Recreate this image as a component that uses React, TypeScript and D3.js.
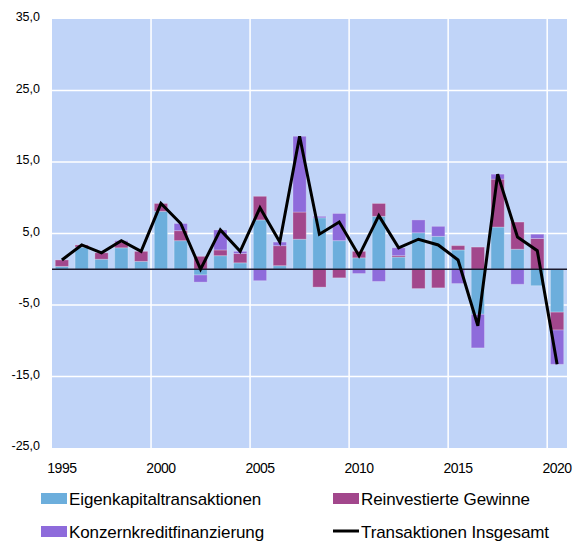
import React from "react";
import * as d3 from "d3";

// Direktinvestitionen: Transaktionen nach Komponenten, 1995-2020
const years = d3.range(1995, 2021).map(String);
const eigenkapital = [0.4, 3.1, 1.4, 3.0, 1.1, 8.1, 4.0, -0.8, 1.9, 0.9, 6.9, 0.5, 4.2, 7.2, 4.0, 1.6, 7.4, 1.7, 5.1, 4.6, 2.7, -6.3, 5.9, 2.8, -2.3, -6.0];
const reinvestiert = [0.9, 0.3, 0.9, 0.8, 1.4, 1.1, 1.4, 1.8, 0.8, 1.3, 3.3, 2.8, 3.8, -2.5, -1.2, 0.9, 1.8, 0.2, -2.7, -2.6, 0.6, 3.1, 6.7, 3.8, 4.3, -2.5];
const konzernkredit = [0.0, 0.0, 0.0, 0.2, 0.0, 0.0, 1.0, -1.0, 2.8, 0.3, -1.6, 0.5, 10.6, 0.2, 3.8, -0.6, -1.7, 1.1, 1.8, 1.4, -2.0, -4.7, 0.7, -2.1, 0.6, -4.8];
const insgesamt = [1.3, 3.4, 2.3, 4.0, 2.5, 9.2, 6.4, 0.0, 5.5, 2.5, 8.6, 3.8, 18.6, 4.9, 6.6, 1.9, 7.5, 3.0, 4.2, 3.4, 1.3, -7.9, 13.3, 4.5, 2.6, -13.3];
const yTicks = [-25, -15, -5, 5, 15, 25, 35];
const xLabels = ["1995", "2000", "2005", "2010", "2015", "2020"];

const seriesNames = ["Eigenkapitaltransaktionen", "Reinvestierte Gewinne", "Konzernkreditfinanzierung"];
const colors = ["#6caedc", "#a2478c", "#8e6bdb"];

export default function App() {
  const width = 573;
  const height = 541;
  const plot = { left: 52, right: 567, top: 19, bottom: 448 };

  const x = d3.scaleBand().domain(years).range([plot.left, plot.right]).paddingInner(0).paddingOuter(0);
  const y = d3.scaleLinear().domain([-25, 35]).range([plot.bottom, plot.top]);
  const barW = x.bandwidth() * 0.67;

  const rows = years.map((yr, i) => ({
    year: yr,
    [seriesNames[0]]: eigenkapital[i],
    [seriesNames[1]]: reinvestiert[i],
    [seriesNames[2]]: konzernkredit[i],
  }));
  const stacked = d3.stack<any>().keys(seriesNames).offset(d3.stackOffsetDiverging)(rows);

  const line = d3
    .line<number>()
    .x((_, i) => (x(years[i]) as number) + x.bandwidth() / 2)
    .y((d) => y(d));

  const font = "'Liberation Sans', Arial, sans-serif";

  return (
    <svg width={width} height={height} style={{ position: "absolute", left: 0, top: 0 }} fontFamily={font}>
      <rect x={plot.left} y={plot.top} width={plot.right - plot.left} height={plot.bottom - plot.top} fill="#c0d4f8" />
      {yTicks.slice(1, -1).map((t) => (
        <line key={"gy" + t} x1={plot.left} x2={plot.right} y1={y(t)} y2={y(t)} stroke="#ffffff" strokeWidth={1.5} />
      ))}
      {xLabels.slice(1).map((l) => (
        <line key={"gx" + l} x1={x(l)} x2={x(l)} y1={plot.top} y2={plot.bottom} stroke="#ffffff" strokeWidth={1.5} />
      ))}
      {stacked.map((s, si) => (
        <g key={s.key} fill={colors[si]}>
          {s.map((d, i) => {
            const y0 = y(d[0]);
            const y1 = y(d[1]);
            if (Math.abs(y0 - y1) < 0.01) return null;
            return (
              <rect
                key={i}
                x={(x(years[i]) as number) + (x.bandwidth() - barW) / 2}
                y={Math.min(y0, y1)}
                width={barW}
                height={Math.abs(y0 - y1)}
                stroke="#ffffff"
                strokeOpacity={0.25}
                strokeWidth={1}
              />
            );
          })}
        </g>
      ))}
      <line x1={plot.left} x2={plot.right} y1={y(0)} y2={y(0)} stroke="#1a1a2e" strokeWidth={1.3} />
      <path d={line(insgesamt) || ""} fill="none" stroke="#000000" strokeWidth={3} strokeLinejoin="miter" />
      {yTicks.map((t) => (
        <text key={"ty" + t} x={40} y={y(t) + 2} textAnchor="end" fontSize={12.5} fill="#000">
          {d3.format(".1f")(t).replace(".", ",").replace("−", "-")}
        </text>
      ))}
      {xLabels.map((l) => (
        <text key={"tx" + l} x={(x(l) as number) + x.bandwidth() / 2} y={473} textAnchor="middle" fontSize={14} fill="#000" letterSpacing={-0.5}>
          {l}
        </text>
      ))}
      <g fontSize={17} letterSpacing={-0.1}>
        <rect x={41} y={493} width={26} height={11} fill={colors[0]} />
        <text x={69} y={505}>{seriesNames[0]}</text>
        <rect x={333} y={493} width={26} height={11} fill={colors[1]} />
        <text x={361} y={505}>{seriesNames[1]}</text>
        <rect x={41} y={526} width={26} height={11} fill={colors[2]} />
        <text x={69} y={538}>{seriesNames[2]}</text>
        <line x1={333} x2={359} y1={531} y2={531} stroke="#000" strokeWidth={3} />
        <text x={361} y={538}>Transaktionen Insgesamt</text>
      </g>
    </svg>
  );
}
